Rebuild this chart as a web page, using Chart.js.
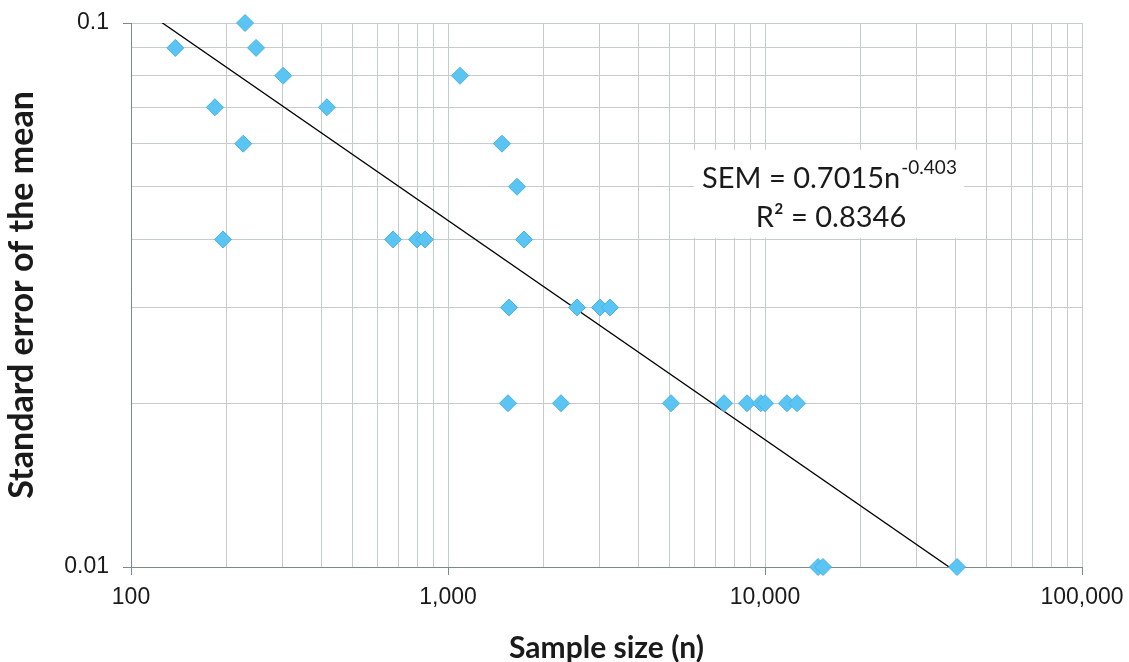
<!DOCTYPE html>
<html>
<head>
<meta charset="utf-8">
<script src="https://cdn.jsdelivr.net/npm/chart.js@4/dist/chart.umd.min.js"></script>
<style>
  body { margin: 0; background: #fff; }
  #wrap { width: 1129px; height: 662px; }
</style>
</head>
<body>
<div id="wrap"><canvas id="grafico" width="1129" height="662"></canvas></div>
<script>
// tamanho da amostra (n) e erro padrao da media
var sample_size = [138, 184, 195, 226, 229, 248, 302, 415, 671, 798, 846, 1091,
                   1480, 1546, 1557, 1651, 1737, 2272, 2553, 3017, 3244, 5052,
                   7425, 8775, 9700, 10000, 11730, 12620, 14700, 15240, 40350]
var sem_values = [0.09, 0.07, 0.04, 0.06, 0.1, 0.09, 0.08, 0.07, 0.04, 0.04, 0.04, 0.08,
                  0.06, 0.02, 0.03, 0.05, 0.04, 0.02, 0.03, 0.03, 0.03, 0.02,
                  0.02, 0.02, 0.02, 0.02, 0.02, 0.02, 0.01, 0.01, 0.01]

// linha de tendencia (potencia) do Excel
var trend_coef = 0.7015
var trend_exp = -0.403
var trend_r2 = 0.8346

var x_range = [100, 100000]
var y_range = [0.01, 0.1]
var x_tick_labels = ['100', '1,000', '10,000', '100,000']
var y_tick_labels = ['0.01', '0.1']

var fonte = 'Lato, "Open Sans", sans-serif'
var fonte_ticks = '"Liberation Sans", Arial, sans-serif'

function eh_potencia_de_10(v){
    var l = Math.log10(v)
    return Math.abs(l - Math.round(l)) < 1e-6
}

// linhas de grade 1..9 x 10^k dentro do intervalo
function grade_log(min, max){
    var vals = []
    for(let k = Math.floor(Math.log10(min)); k <= Math.ceil(Math.log10(max)); k++){
        for(let m = 1; m < 10; m++){
            let v = parseFloat((m * Math.pow(10, k)).toPrecision(6))
            if(v >= min * 0.9999 && v <= max * 1.0001) vals.push({value: v, major: m === 1})
        }
    }
    return vals
}

var pontos = []
for(let i = 0; i < sample_size.length; i++){
    pontos.push({x: sample_size[i], y: sem_values[i]})
}

var tendencia = x_range.map(function(n){
    return {x: n, y: trend_coef * Math.pow(n, trend_exp)}
})

const caixa_equacao = {
    id: 'caixa_equacao',
    afterDatasetsDraw(chart){
        const ctx = chart.ctx
        const a = chart.chartArea
        const bx = a.left + (a.right - a.left) * 0.592
        const by = a.top + (a.bottom - a.top) * 0.233
        const bw = 270, bh = 88
        ctx.save()
        ctx.fillStyle = '#fff'
        ctx.fillRect(bx, by, bw, bh)
        ctx.fillStyle = '#1a1a1a'
        ctx.textBaseline = 'alphabetic'
        ctx.font = '29px ' + fonte
        const t1 = 'SEM = ' + trend_coef + 'n'
        const sup = trend_exp.toString()
        const w1 = ctx.measureText(t1).width
        ctx.font = '19px ' + fonte
        const ws = ctx.measureText(sup).width
        let x0 = bx + bw / 2 - (w1 + ws) / 2
        ctx.font = '29px ' + fonte
        ctx.fillText(t1, x0, by + 38)
        ctx.font = '19px ' + fonte
        ctx.fillText(sup, x0 + w1 + 1, by + 24)
        ctx.font = '29px ' + fonte
        ctx.textAlign = 'center'
        ctx.fillText('R\u00b2 = ' + trend_r2, bx + bw / 2 + 2, by + 77)
        ctx.restore()
    }
}

function cor_tick(c){
    return c.tick && eh_potencia_de_10(c.tick.value) ? '#7d8a8c' : 'rgba(0,0,0,0)'
}

const ctx = document.getElementById('grafico').getContext('2d')

const myChart = new Chart(ctx, {
    data: {
        datasets: [{
            type: 'scatter',
            label: 'SEM',
            data: pontos,
            pointStyle: 'rectRot',
            pointRadius: 8.5,
            backgroundColor: '#5ac4f2',
            borderColor: '#48b3e8',
            borderWidth: 1,
            clip: false,
            order: 1
        }, {
            type: 'line',
            label: 'tendencia',
            data: tendencia,
            borderColor: '#000',
            borderWidth: 1.3,
            pointRadius: 0,
            fill: false,
            order: 2
        }]
    },
    options: {
        responsive: false,
        animation: false,
        layout: { padding: { top: 23, right: 47, left: 0, bottom: 0 } },
        plugins: {
            legend: { display: false },
            tooltip: { enabled: false }
        },
        scales: {
            x: {
                type: 'logarithmic',
                min: x_range[0],
                max: x_range[1],
                afterBuildTicks: function(s){ s.ticks = grade_log(x_range[0], x_range[1]) },
                afterFit: function(s){ s.height = 95; s.paddingLeft = 0; s.paddingRight = 0 },
                border: { color: '#7d8a8c', width: 1 },
                grid: {
                    color: '#c6ccce',
                    lineWidth: 1,
                    tickLength: 8,
                    tickColor: cor_tick
                },
                ticks: {
                    autoSkip: false,
                    maxRotation: 0,
                    padding: 9,
                    color: '#1a1a1a',
                    font: { family: fonte_ticks, size: 23 },
                    callback: function(v){
                        if(!eh_potencia_de_10(v)) return ''
                        return x_tick_labels[Math.round(Math.log10(v / x_range[0]))]
                    }
                },
                title: {
                    display: true,
                    text: 'Sample size (n)',
                    color: '#1a1a1a',
                    font: { family: fonte, size: 30, weight: 'bold' },
                    padding: { top: 0, bottom: -4 }
                }
            },
            y: {
                type: 'logarithmic',
                min: y_range[0],
                max: y_range[1],
                afterBuildTicks: function(s){ s.ticks = grade_log(y_range[0], y_range[1]) },
                afterFit: function(s){ s.width = 131; s.paddingTop = 0; s.paddingBottom = 0 },
                border: { color: '#7d8a8c', width: 1 },
                grid: {
                    color: '#c6ccce',
                    lineWidth: 1,
                    tickLength: 8,
                    tickColor: cor_tick
                },
                ticks: {
                    autoSkip: false,
                    padding: 14,
                    color: '#1a1a1a',
                    font: { family: fonte_ticks, size: 23 },
                    callback: function(v){
                        if(!eh_potencia_de_10(v)) return ''
                        return y_tick_labels[Math.round(Math.log10(v / y_range[0]))]
                    }
                },
                title: {
                    display: true,
                    text: 'Standard error of the mean',
                    color: '#1a1a1a',
                    font: { family: fonte, size: 34, weight: 'bold' },
                    padding: { top: 2, bottom: 0 }
                }
            }
        }
    },
    plugins: [caixa_equacao]
})
</script>
</body>
</html>
